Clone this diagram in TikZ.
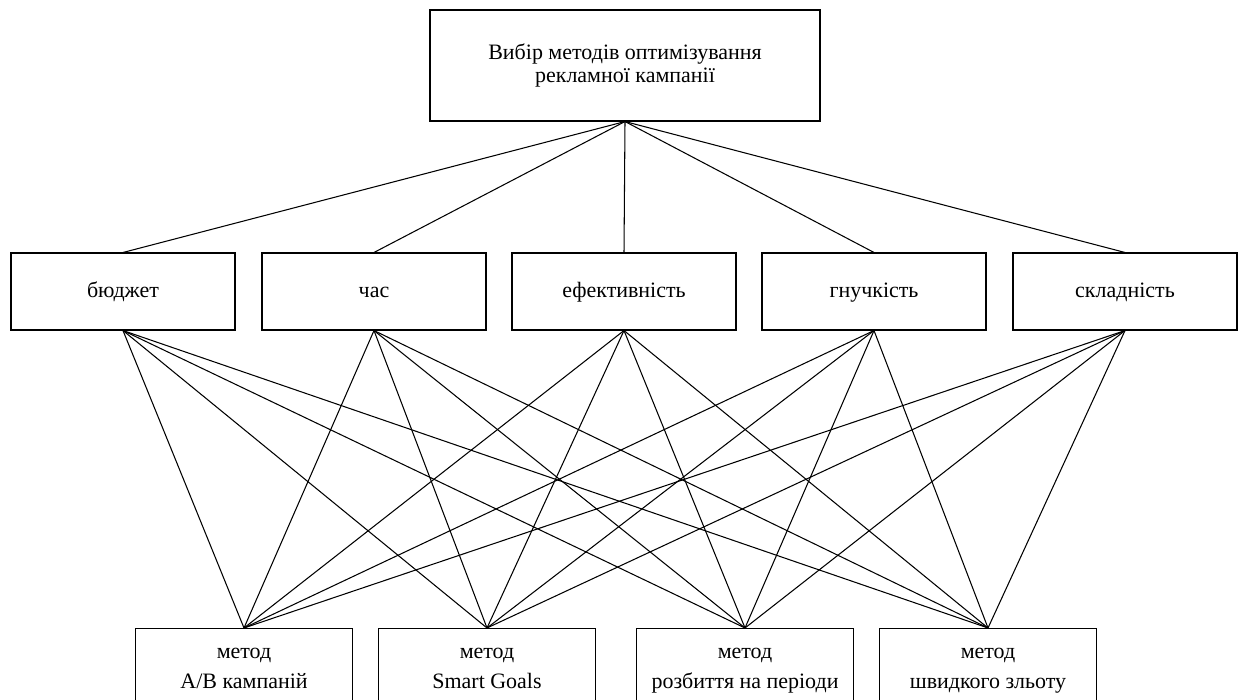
\documentclass[tikz,border=0pt]{standalone}
\usepackage{fontspec}
\setmainfont{Liberation Serif}
\usetikzlibrary{positioning}
\tikzset{
  box/.style={draw,line width=0.6pt,align=center,inner sep=0pt,font=\fontsize{12.5}{13}\selectfont},
  link/.style={line width=0.6pt}
}
\begin{document}
\begin{tikzpicture}[x=0.2mm,y=-0.2mm]
    \useasboundingbox (0,0) rectangle (1240,699);
    \node[box,minimum width=78mm,minimum height=22.2mm] (goal) at (625,65.5)
      {Вибір методів оптимізування\\рекламної кампанії};
    \foreach \i/\x/\lbl in {
      1/123/бюджет,
      2/374/час,
      3/624/ефективність,
      4/874/гнучкість,
      5/1125/складність}{
      \node[box,text height=0.8em,text depth=0.1em,minimum width=44.8mm,minimum height=15.4mm]
        (crit\i) at (\x,291.5) {\lbl};
      \draw[link] (goal.south) -- (crit\i.north);
    }
    \foreach \j/\x/\lbl in {
      1/244/{A/B кампаній},
      2/487/{Smart Goals},
      3/745/{розбиття на періоди},
      4/988/{швидкого зльоту}}{
      \node[box,font=\fontsize{12.5}{17}\selectfont,minimum width=43.4mm,minimum height=17mm]
        (meth\j) at (\x,671) {метод\\\lbl\vphantom{ру}};
      \foreach \i in {1,...,5}
        \draw[link] (crit\i.south) -- (meth\j.north);
    }
\end{tikzpicture}
\end{document}
